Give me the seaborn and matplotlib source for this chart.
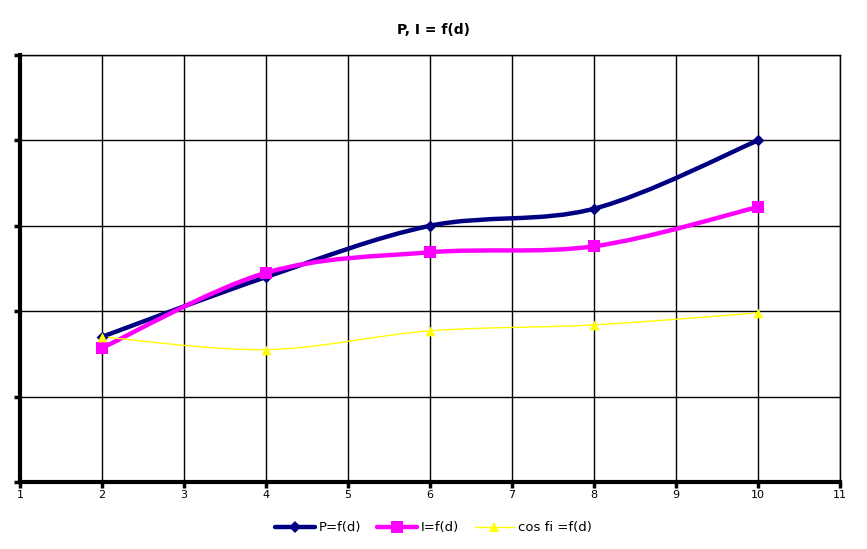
import numpy as np
import pandas as pd
import matplotlib
matplotlib.use("Agg")
import matplotlib.pyplot as plt
from matplotlib.path import Path
from matplotlib.patches import PathPatch
from matplotlib.lines import Line2D
import seaborn as sns

# datos
d = [2, 4, 6, 8, 10]
p_vals = [1.70, 2.40, 3.00, 3.20, 4.00]
i_vals = [1.57, 2.45, 2.69, 2.76, 3.22]
cos_vals = [1.70, 1.55, 1.77, 1.84, 1.98]

series = [
    ("P=f(d)", p_vals, "#000080", 3.2, "D", 6),
    ("I=f(d)", i_vals, "#FF00FF", 3.2, "s", 8),
    ("cos fi =f(d)", cos_vals, "#FFFF00", 1.0, "^", 7),
]


def smooth_path(x, y, t=1 / 6):
    # curva suavizada estilo Excel (Bezier Catmull-Rom)
    pts = np.column_stack([x, y]).astype(float)
    verts = [pts[0]]
    codes = [Path.MOVETO]
    n = len(pts)
    for k in range(n - 1):
        p0 = pts[k - 1] if k > 0 else pts[k]
        p1 = pts[k]
        p2 = pts[k + 1]
        p3 = pts[k + 2] if k + 2 < n else pts[k + 1]
        c1 = p1 + (p2 - p0) * t
        c2 = p2 - (p3 - p1) * t
        verts += [c1, c2, p2]
        codes += [Path.CURVE4] * 3
    return Path(verts, codes)


sns.set_style("white")
plt.rcParams["text.color"] = "black"
plt.rcParams["xtick.color"] = "black"
plt.rcParams["ytick.color"] = "black"

fig = plt.figure(figsize=(8.67, 5.49), dpi=100)
ax = fig.add_axes([20 / 867, 67 / 549, 820 / 867, 427 / 549])

handles = []
for name, vals, color, lw, marker, ms in series:
    df = pd.DataFrame({"d": d, "v": vals})
    ax.add_patch(PathPatch(smooth_path(d, vals), facecolor="none",
                           edgecolor=color, lw=lw, zorder=3, capstyle="round"))
    sns.scatterplot(data=df, x="d", y="v", marker=marker, s=ms ** 2,
                    color=color, edgecolor=color, linewidth=0, ax=ax, zorder=4)
    handles.append(Line2D([], [], color=color, lw=lw, marker=marker,
                          markersize=ms, markeredgewidth=0, label=name))

ax.set_xlim(1, 11)
ax.set_ylim(0, 5)
ax.set_xticks(range(1, 12))
ax.set_yticks(range(0, 6))
ax.set_yticklabels([])
ax.set_xlabel("")
ax.set_ylabel("")
ax.grid(True, color="black", lw=1)
ax.set_axisbelow(True)
ax.tick_params(axis="both", direction="out", length=4, width=2.5,
               labelsize=8, color="black", labelcolor="black",
               left=True, bottom=True, pad=2)
for side in ["left", "bottom"]:
    ax.spines[side].set_linewidth(3)
    ax.spines[side].set_color("black")
for side in ["top", "right"]:
    ax.spines[side].set_linewidth(1)
    ax.spines[side].set_color("black")

fig.text(0.5, 1 - 30 / 549, "P, I = f(d)", ha="center", va="center",
         fontsize=10, fontweight="bold", color="black")
fig.legend(handles=handles, loc="center", bbox_to_anchor=(0.5, 1 - 528 / 549),
           ncol=3, frameon=False, fontsize=9.5, handlelength=3,
           columnspacing=1.2, handletextpad=0.3, labelcolor="black")

fig.savefig("out.png", dpi=100)
